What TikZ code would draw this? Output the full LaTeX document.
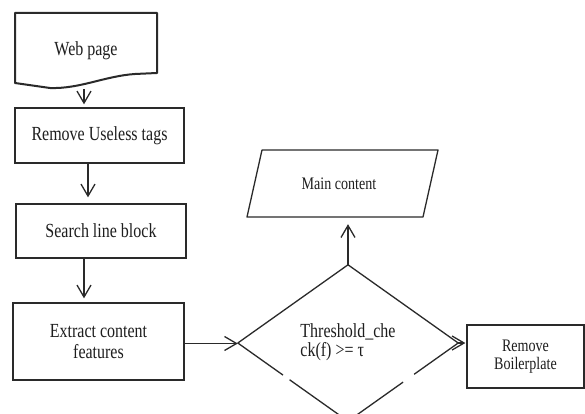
\documentclass[tikz,border=0pt]{standalone}
\usepackage{fontspec}
\setmainfont{Liberation Serif}[FakeStretch=0.8]
\usetikzlibrary{arrows.meta,calc,shapes.geometric}
\definecolor{ink}{HTML}{2A2A2A}
\definecolor{txt}{HTML}{1E1E1E}
\tikzset{
  line/.style={draw=ink,line width=1.3pt},
  box/.style={rectangle,line,inner sep=0pt,text=txt,align=center,font=\fontsize{20}{21.5}\selectfont},
  smallbox/.style={box,font=\fontsize{17.6}{18.6}\selectfont},
  arr/.style={draw=ink,line width=1.3pt,-{Straight Barb[length=12pt,width=14pt,line width=1.3pt]}},
}
\begin{document}
\begin{tikzpicture}[x=1pt,y=-1pt]
\useasboundingbox (0,0) rectangle (585,414);
\clip (0,0) rectangle (585,414);
\fill[white] (0,0) rectangle (585,414);

% Web page (document shape)
\draw[draw=ink,line width=2pt,line join=round] (15,13) -- (157,13) -- (157,73) -- (135,74)
  .. controls (105,76) and (80,89) .. (50,88) -- (15,83) -- cycle;
\node (web) at (86,51) [rectangle,inner sep=0pt,minimum width=142,minimum height=76,text=txt,font=\fontsize{20}{21.5}\selectfont] {\raisebox{4pt}{Web page}};

\node (rut) at (99.5,135.5) [box,minimum width=169,minimum height=55] {Remove Useless tags};
\node (slb) at (101,231) [box,minimum width=170,minimum height=54] {Search line block};
\node (ecf) at (98.5,341.5) [box,minimum width=171,minimum height=77] {Extract content\\features};

% Main content (parallelogram)
\draw[line,line join=round] (262,150) -- (438,150) -- (423,217) -- (247,217) -- cycle;
\node (main) at (339,183.5) [rectangle,inner sep=0pt,minimum width=150,minimum height=67,text=txt,font=\fontsize{17.6}{18.6}\selectfont] {\raisebox{-3pt}{Main content}};

% Decision diamond
\node (dec) at (348,343) [diamond,inner sep=0pt,minimum width=220,minimum height=156,text=txt,align=left,font=\fontsize{20}{20}\selectfont] {\raisebox{-4pt}{\begin{tabular}{@{}l@{}}Threshold\_che\\[-1pt]ck(f) >= τ\end{tabular}}};
\draw[line,line join=round] (dec.west) -- (dec.north) -- (dec.east);
\draw[line] (dec.west) -- ($(dec.west)!0.41!(dec.south)$);
\draw[line] ($(dec.west)!0.47!(dec.south)$) -- (dec.south);
\draw[line] (dec.east) -- ($(dec.east)!0.40!(dec.south)$);
\draw[line] ($(dec.east)!0.50!(dec.south)$) -- (dec.south);

\node (rb) at (525.5,356.5) [smallbox,minimum width=117,minimum height=63] {Remove\\Boilerplate};

% connectors
\draw[arr,shorten >=3pt] ([xshift=-2]web.south) -- ([xshift=-2]web.south |- rut.north);
\draw[arr,shorten >=6pt] ([xshift=-11.5]rut.south) -- ([xshift=-11.5]rut.south |- slb.north);
\draw[arr,shorten >=4pt] ([xshift=-17]slb.south) -- ([xshift=-17]slb.south |- ecf.north);
\draw[arr] ([yshift=-2]ecf.east) -- ([yshift=-2]ecf.east -| dec.west);
\draw[arr,shorten >=7pt] (dec.north) -- (dec.north |- main.south);
\draw[arr,shorten >=1pt] (dec.east) -- (dec.east -| rb.west);
\end{tikzpicture}
\end{document}
